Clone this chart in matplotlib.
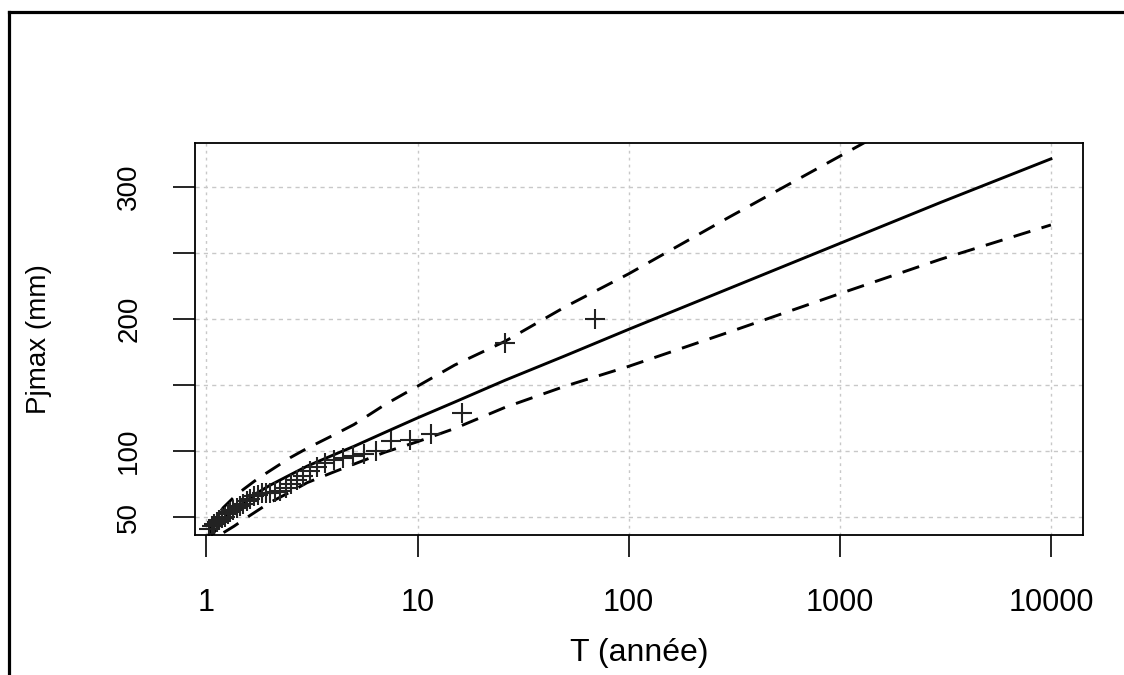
import numpy as np
import matplotlib.pyplot as plt
from matplotlib.lines import Line2D

plt.rcParams['font.family'] = ['Liberation Sans', 'DejaVu Sans']

# observations (periode de retour, pluie journaliere max)
T_obs = [69, 26, 16.2, 11.6, 9.2, 7.5, 6.35, 5.55, 4.97, 4.45, 4.0, 3.65,
         3.35, 3.1, 2.88, 2.68, 2.52, 2.37, 2.24, 2.12, 2.01, 1.92, 1.83,
         1.75, 1.68, 1.61, 1.55, 1.49, 1.44, 1.39, 1.34, 1.3, 1.26, 1.22,
         1.18, 1.15, 1.12, 1.09, 1.06, 1.03]
P_obs = [200, 182, 129, 113, 108.5, 107.5, 100, 98, 96, 95, 93, 91,
         88, 85, 81, 78, 75, 72, 70, 69, 68.5, 68, 68,
         67, 66, 64, 62, 60, 58, 57, 55, 54, 52, 50,
         49, 48, 46, 45, 43, 41]

# ajustement + intervalle de confiance
T_fit = [1.02, 1.05, 1.1, 1.2, 1.35, 1.5, 1.75, 2, 2.5, 3, 4, 5, 7, 10, 15,
         26, 50, 100, 300, 1000, 3000, 10000]
P_fit = [27, 33, 40, 48, 55.5, 61, 68.5, 74, 82, 88.5, 97, 103.5, 114, 125, 137,
         153.5, 172, 192, 223, 257, 288, 321]
P_up = [35, 41, 48.5, 57, 65, 71, 79, 85, 95, 102, 112, 120, 135, 149, 165,
        183, 209, 234, 277, 323, 365, 407]
P_low = [20, 26, 32, 38, 43, 48, 55, 61, 69, 76, 84, 90, 99, 107, 117,
         133, 149, 164, 190, 219, 245, 271]

fig = plt.figure(figsize=(11.24, 6.75), dpi=100)
ax = fig.add_axes([195/1124, 1-535/675, 888/1124, 392/675])

ax.set_xscale('log')
ax.set_xlim(0.883, 14190)
ax.set_ylim(36.4, 333)

# grille facon R
for v in [1, 10, 100, 1000, 10000]:
    ax.axvline(v, color='#c8c8c8', lw=1, ls=(0, (2, 3)), zorder=0)
for v in [50, 100, 150, 200, 250, 300]:
    ax.axhline(v, color='#c8c8c8', lw=1, ls=(0, (3, 3)), zorder=0)

ax.plot(T_fit, P_fit, color='black', lw=2.1)
ax.plot(T_fit, P_up, color='black', lw=2.1, ls=(0, (6, 4)))
ax.plot(T_fit, P_low, color='black', lw=2.1, ls=(0, (6, 4)))
ax.plot(T_obs, P_obs, ls='none', marker='+', ms=14, mew=1.5, color='#222222')

ax.set_xticks([1, 10, 100, 1000, 10000])
ax.set_xticklabels(['1', '10', '100', '1000', '10000'], fontsize=22)
ax.minorticks_off()
ax.set_yticks([50, 100, 150, 200, 250, 300])
ax.set_yticklabels(['50', '100', '', '200', '', '300'], fontsize=20, rotation=90, va='center')
ax.tick_params(axis='x', length=16, width=1.2, pad=22)
ax.tick_params(axis='y', length=16, width=1.2, pad=22)

for s in ax.spines.values():
    s.set_linewidth(1.3)

ax.set_xlabel('T (année)', fontsize=23)
ax.xaxis.set_label_coords(0.5, -0.262)
ax.set_ylabel('Pjmax (mm)', fontsize=20)
ax.yaxis.set_label_coords(-0.161, 0.5)

# cadre exterieur
fig.add_artist(Line2D([9/1124, 9/1124], [0, 1-12/675], transform=fig.transFigure, color='black', lw=2.3))
fig.add_artist(Line2D([9/1124, 1], [1-12/675, 1-12/675], transform=fig.transFigure, color='black', lw=2.3))

fig.savefig('out.png', dpi=100)
